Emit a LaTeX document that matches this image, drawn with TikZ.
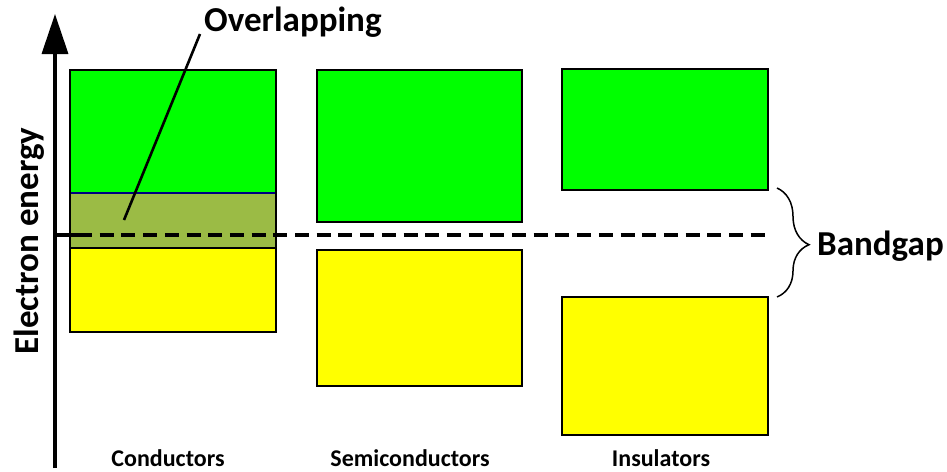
\documentclass[tikz,border=0pt]{standalone}
\usepackage{fontspec}
\setmainfont{Carlito}
\usetikzlibrary{arrows.meta,decorations.pathreplacing}
\definecolor{cband}{HTML}{00FF00}
\definecolor{vband}{HTML}{FFFF00}
\definecolor{oband}{HTML}{9BBB45}
\tikzset{
  band/.style={draw=black, line width=1.8pt, rectangle},
  lbl/.style={font=\bfseries\fontsize{24}{28}\selectfont, inner sep=0pt},
  big/.style={font=\bfseries\fontsize{35}{40}\selectfont, inner sep=0pt},
}
\begin{document}
\begin{tikzpicture}[x=1pt,y=-1pt]
\useasboundingbox (0,0) rectangle (947,471);
% conductors
\fill[cband] (69,69) rectangle (275,193);
\fill[oband] (69,193) rectangle (275,248);
\fill[vband] (69,248) rectangle (275,331);
\draw[draw=blue!50!black, line width=1.3pt] (69,193) -- (275,193);
\draw[line width=1.3pt] (69,248) -- (275,248);
\node[band, minimum width=206pt, minimum height=262pt, anchor=north west] (cond) at (69,69) {};
% semiconductors
\node[band, fill=cband, minimum width=205pt, minimum height=152pt, anchor=north west] (sc) at (316,69) {};
\node[band, fill=vband, minimum width=205pt, minimum height=136pt, anchor=north west] (sv) at (316,249) {};
% insulators
\node[band, fill=cband, minimum width=206pt, minimum height=121pt, anchor=north west] (ic) at (561,68) {};
\node[band, fill=vband, minimum width=206pt, minimum height=138pt, anchor=north west] (iv) at (561,296) {};
% fermi level
\coordinate (fl0) at (55,235);
\coordinate (fl1) at (770,235);
\draw[line width=3.4pt] (55,235) -- (78,235);
\draw[line width=3.4pt, dash pattern=on 14pt off 7.7pt] (78,235) -- (fl1);
% axis
\coordinate (ax0) at (55,468);
\coordinate (ax1) at (55,14);
\draw[line width=3.5pt, -{Triangle[length=40pt,width=26pt]}] (ax0) -- (ax1);
\node[big, rotate=90] (ee) at (29,241) {Electron energy};
% overlapping
\node[big, anchor=west] (ov) at (204,22) {Overlapping};
\coordinate (ovp) at (124,220);
\draw[line width=2.6pt] (200,34) -- (ovp);
% bandgap brace
\draw[line width=1.5pt, decorate, decoration={brace, amplitude=32pt, aspect=0.52}] (777,188) -- (777,297);
\node[big, anchor=west] (bg) at (817,246) {Bandgap};
% labels
\node[lbl] (l1) at (168,458) {Conductors};
\node[lbl] (l2) at (410,458) {Semiconductors};
\node[lbl] (l3) at (661,458) {Insulators};
\end{tikzpicture}
\end{document}
